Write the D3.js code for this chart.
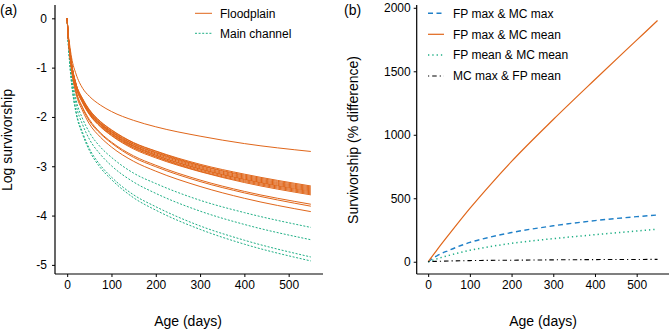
<!DOCTYPE html>
<html><head><meta charset="utf-8">
<script src="https://cdn.jsdelivr.net/npm/d3@7/dist/d3.min.js"></script>
<style>
body{margin:0;background:#fff;}
text{font-family:"Liberation Sans",Arial,Helvetica,sans-serif;fill:#000;}
</style></head>
<body><svg id="chart" width="669" height="329"></svg>
<script>
// ---------- Panel (a) data ----------
const agesA = [0, 2, 5, 10, 20, 35, 50, 75, 100, 150, 200, 300, 400, 550];
const floodplainCurves = [
  [0,-0.28,-0.50,-0.80,-1.13,-1.42,-1.58,-1.76,-1.89,-2.07,-2.20,-2.39,-2.54,-2.70],
  [0,-0.31,-0.58,-0.92,-1.33,-1.63,-1.85,-2.09,-2.26,-2.52,-2.69,-2.96,-3.16,-3.40],
  [0,-0.31,-0.58,-0.92,-1.33,-1.64,-1.86,-2.10,-2.27,-2.53,-2.70,-2.98,-3.18,-3.42],
  [0,-0.31,-0.58,-0.93,-1.34,-1.65,-1.87,-2.12,-2.29,-2.55,-2.72,-2.99,-3.20,-3.44],
  [0,-0.31,-0.59,-0.93,-1.35,-1.66,-1.89,-2.13,-2.30,-2.56,-2.73,-3.01,-3.22,-3.46],
  [0,-0.31,-0.59,-0.94,-1.36,-1.67,-1.90,-2.14,-2.31,-2.58,-2.75,-3.03,-3.24,-3.48],
  [0,-0.32,-0.60,-0.95,-1.37,-1.68,-1.91,-2.15,-2.33,-2.59,-2.77,-3.05,-3.26,-3.50],
  [0,-0.32,-0.60,-0.95,-1.37,-1.69,-1.92,-2.16,-2.34,-2.60,-2.78,-3.06,-3.27,-3.52],
  [0,-0.32,-0.60,-0.96,-1.38,-1.70,-1.93,-2.18,-2.35,-2.62,-2.80,-3.08,-3.29,-3.54],
  [0,-0.32,-0.61,-0.96,-1.39,-1.71,-1.94,-2.19,-2.37,-2.63,-2.81,-3.10,-3.31,-3.56],
  [0,-0.32,-0.61,-0.97,-1.40,-1.72,-1.95,-2.20,-2.38,-2.65,-2.83,-3.11,-3.33,-3.58],
  [0,-0.34,-0.64,-1.02,-1.47,-1.81,-2.05,-2.32,-2.51,-2.79,-2.98,-3.28,-3.51,-3.77],
  [0,-0.34,-0.65,-1.03,-1.49,-1.83,-2.08,-2.34,-2.53,-2.82,-3.01,-3.31,-3.54,-3.81],
  [0,-0.35,-0.67,-1.06,-1.53,-1.88,-2.14,-2.41,-2.61,-2.90,-3.10,-3.41,-3.65,-3.92]
];
const mainChannelCurves = [
  [0,-0.38,-0.72,-1.14,-1.65,-2.04,-2.31,-2.61,-2.82,-3.14,-3.35,-3.69,-3.94,-4.24],
  [0,-0.40,-0.76,-1.21,-1.75,-2.16,-2.45,-2.76,-2.99,-3.32,-3.55,-3.91,-4.18,-4.49],
  [0,-0.44,-0.82,-1.31,-1.89,-2.32,-2.64,-2.98,-3.22,-3.58,-3.82,-4.21,-4.50,-4.84],
  [0,-0.44,-0.84,-1.33,-1.92,-2.36,-2.68,-3.03,-3.27,-3.64,-3.89,-4.28,-4.58,-4.92]
];
const legendA = ["Floodplain", "Main channel"];
const xTicks = [0, 100, 200, 300, 400, 500];
const yTicksA = [0, -1, -2, -3, -4, -5];

// ---------- Panel (b) data ----------
const seriesB = ["FP max & MC max", "FP max & MC mean", "FP mean & MC mean", "MC max & FP mean"];
const agesB = [0, 5, 10, 20, 50, 100, 150, 200, 300, 400, 500, 550];
const fpMaxMcMax   = [0, 12, 25, 45, 90, 152, 195, 230, 283, 324, 355, 368];
const fpMaxMcMean  = [0, 22, 44, 88, 215, 420, 610, 790, 1120, 1435, 1745, 1900];
const fpMeanMcMean = [0, 5, 11, 22, 50, 90, 120, 145, 182, 213, 242, 256];
const mcMaxFpMean  = [0, 1, 2, 3, 6, 9, 11, 12, 15, 17, 18, 19];
const yTicksB = [0, 500, 1000, 1500, 2000];

// ---------- Styles ----------
const ORANGE = "#E0661A", GREEN = "#1FAF85", BLUE = "#2080C8", BLACK = "#000";
const fmt = d => String(d);
const TICK_FS = "12px", TITLE_FS = "14px";

const svg = d3.select("#chart");

function styleAxis(a){
  a.select(".domain").attr("stroke","#000").attr("stroke-width",1.2);
  a.selectAll(".tick line").attr("stroke","#000");
  a.selectAll(".tick text").style("font-size",TICK_FS).attr("fill","#000")
   .style("font-family","Liberation Sans, Arial, sans-serif");
}

// ===== Panel (a) =====
const xA = d3.scaleLinear().domain([-27.5, 577.5]).range([55, 323]);
const yA = d3.scaleLinear().domain([-5.185, 0.27]).range([274, 5]);
const gA = svg.append("g");
const lineA = d3.line().x((d,i)=>xA(agesA[i])).y(d=>yA(d)).curve(d3.curveMonotoneX);

mainChannelCurves.forEach(c=>{
  gA.append("path").attr("d", lineA(c)).attr("fill","none")
    .attr("stroke", GREEN).attr("stroke-width", 1).attr("stroke-dasharray","2,1.6");
});
floodplainCurves.forEach(c=>{
  gA.append("path").attr("d", lineA(c)).attr("fill","none")
    .attr("stroke", ORANGE).attr("stroke-width", 1);
});

const axXA = gA.append("g").attr("transform","translate(0,274)")
  .call(d3.axisBottom(xA).tickValues(xTicks).tickFormat(fmt).tickSize(3).tickPadding(3));
const axYA = gA.append("g").attr("transform","translate(55,0)")
  .call(d3.axisLeft(yA).tickValues(yTicksA).tickFormat(fmt).tickSize(3).tickPadding(5));
styleAxis(axXA); styleAxis(axYA);
axXA.select(".domain").attr("d", `M${xA.range()[0]},0H${xA.range()[1]}`);
axYA.select(".domain").attr("d", `M0,${yA.range()[1]}V${yA.range()[0]}`);

gA.append("text").attr("x", 188).attr("y", 326).attr("text-anchor","middle")
  .style("font-size",TITLE_FS).text("Age (days)");
gA.append("text").attr("transform","translate(12,140) rotate(-90)").attr("text-anchor","middle")
  .style("font-size",TITLE_FS).text("Log survivorship");
gA.append("text").attr("x", 0).attr("y", 15).style("font-size",TITLE_FS).text("(a)");

const legA = gA.append("g");
[[ORANGE,null],[GREEN,"2,1.6"]].forEach((s,i)=>{
  const yy = 13.3 + i*20;
  legA.append("line").attr("x1",195).attr("x2",212).attr("y1",yy).attr("y2",yy)
    .attr("stroke",s[0]).attr("stroke-width",1).attr("stroke-dasharray",s[1]);
  legA.append("text").attr("x",220).attr("y",yy+4.2).style("font-size",TICK_FS).text(legendA[i]);
});

// ===== Panel (b) =====
const xB = d3.scaleLinear().domain([-27.5, 577.5]).range([416.7, 669]);
const yB = d3.scaleLinear().domain([-96.5, 2022]).range([274, 5]);
const gB = svg.append("g");
const lineB = arr => d3.line().x((d,i)=>xB(agesB[i])).y(d=>yB(d)).curve(d3.curveMonotoneX)(arr);

const stylesB = [
  {data: fpMaxMcMax,   color: BLUE,   dash: "5,3.5", w: 1.4},
  {data: fpMaxMcMean,  color: ORANGE, dash: null,    w: 1.2},
  {data: fpMeanMcMean, color: GREEN,  dash: "1.3,3", w: 1.5},
  {data: mcMaxFpMean,  color: BLACK,  dash: "1.2,3,4.5,3", w: 1.1}
];
stylesB.forEach(s=>{
  gB.append("path").attr("d", lineB(s.data)).attr("fill","none")
    .attr("stroke", s.color).attr("stroke-width", s.w).attr("stroke-dasharray", s.dash);
});

const axXB = gB.append("g").attr("transform","translate(0,274)")
  .call(d3.axisBottom(xB).tickValues(xTicks).tickFormat(fmt).tickSize(3).tickPadding(3));
const axYB = gB.append("g").attr("transform","translate(416.7,0)")
  .call(d3.axisLeft(yB).tickValues(yTicksB).tickFormat(fmt).tickSize(3).tickPadding(3));
styleAxis(axXB); styleAxis(axYB);
axXB.select(".domain").attr("d", `M${xB.range()[0]},0H${xB.range()[1]}`);
axYB.select(".domain").attr("d", `M0,${yB.range()[1]}V${yB.range()[0]}`);

gB.append("text").attr("x", 543).attr("y", 326).attr("text-anchor","middle")
  .style("font-size",TITLE_FS).text("Age (days)");
gB.append("text").attr("transform","translate(358,140) rotate(-90)").attr("text-anchor","middle")
  .style("font-size",TITLE_FS).text("Survivorship (% difference)");
gB.append("text").attr("x", 344).attr("y", 15).style("font-size",TITLE_FS).text("(b)");

const legB = gB.append("g");
stylesB.forEach((s,i)=>{
  const yy = [13.3, 34.3, 55, 76][i];
  legB.append("line").attr("x1",428).attr("x2",444).attr("y1",yy).attr("y2",yy)
    .attr("stroke",s.color).attr("stroke-width",s.w).attr("stroke-dasharray",s.dash);
  legB.append("text").attr("x",453).attr("y",yy+4.2).style("font-size",TICK_FS).text(seriesB[i]);
});
</script>
</body></html>
